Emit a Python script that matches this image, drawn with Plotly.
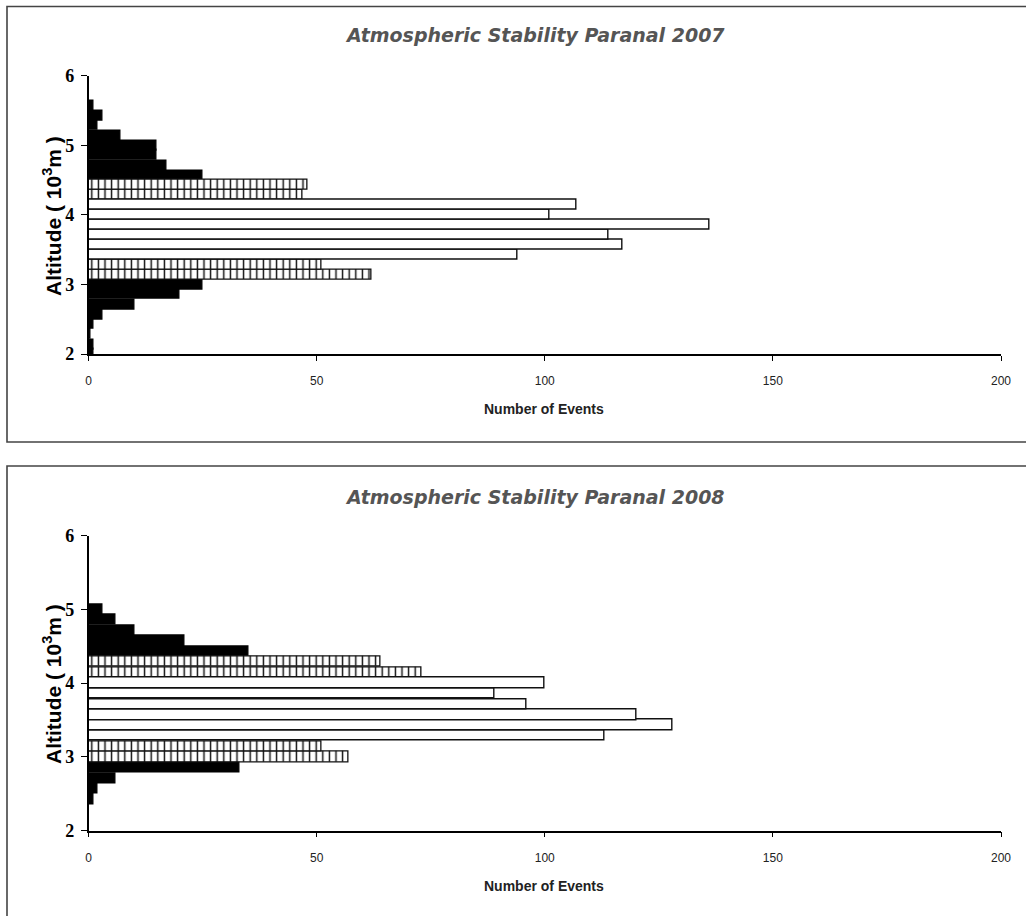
import plotly.graph_objects as go

# Altitude bins (10^3 m), bin centres
altitude = [2.00, 2.14, 2.29, 2.43, 2.57, 2.71, 2.86, 3.00, 3.14, 3.29, 3.43, 3.57, 3.71,
            3.86, 4.00, 4.14, 4.29, 4.43, 4.57, 4.71, 4.86, 5.00, 5.14, 5.29, 5.43, 5.57]
bin_width = 1 / 7

# Number of events per altitude bin
events_2007 = [1, 1, 0.5, 1, 3, 10, 20, 25, 62, 51, 94, 117, 114,
               136, 101, 107, 47, 48, 25, 17, 15, 15, 7, 2, 3, 1]
events_2008 = [0, 0, 0, 1, 2, 6, 33, 57, 51, 113, 128, 120, 96,
               89, 100, 73, 64, 35, 21, 10, 6, 3, 0, 0, 0, 0]

# Layer band of each bin
band_2007 = ["outer"] * 8 + ["edge"] * 2 + ["core"] * 6 + ["edge"] * 2 + ["outer"] * 8
band_2008 = ["outer"] * 7 + ["edge"] * 2 + ["core"] * 6 + ["edge"] * 2 + ["outer"] * 9

titles = ["Atmospheric Stability Paranal 2007", "Atmospheric Stability Paranal 2008"]
x_ticks = [0, 50, 100, 150, 200]
y_ticks = [2, 3, 4, 5, 6]

W, H = 1026, 916


def px_x(p):
    return p / W


def px_y(p):
    return 1 - p / H


band_style = {
    "outer": dict(color="black", line=dict(color="black", width=1.2)),
    "edge": dict(color="white", line=dict(color="#111", width=1.3),
                 pattern=dict(shape="|", size=6.6, solidity=0.22,
                              fgcolor="#111", bgcolor="white", fillmode="replace")),
    "core": dict(color="white", line=dict(color="#111", width=1.4)),
}

fig = go.Figure()

panels = [
    dict(counts=events_2007, bands=band_2007, xa="x", ya="y",
         ydom=(px_y(354), px_y(75.7)), frame=(6.5, 442), title_y=35,
         ytitle_y=216, xtitle_y=409),
    dict(counts=events_2008, bands=band_2008, xa="x2", ya="y2",
         ydom=(px_y(830.7), px_y(535.5)), frame=(466, 930), title_y=497,
         ytitle_y=684, xtitle_y=886),
]

for i, p in enumerate(panels):
    for band in ["outer", "edge", "core"]:
        ys = [a for a, b in zip(altitude, p["bands"]) if b == band]
        xs = [c for c, b in zip(p["counts"], p["bands"]) if b == band]
        fig.add_trace(go.Bar(
            x=xs, y=ys, orientation="h", width=bin_width,
            marker=band_style[band], xaxis=p["xa"], yaxis=p["ya"],
            showlegend=False, hoverinfo="x+y",
        ))

    suffix = "" if i == 0 else "2"
    fig.update_layout(**{
        "xaxis" + suffix: dict(
            domain=[px_x(88.5), px_x(1001)], range=[0, 200], tickvals=x_ticks,
            ticks="outside", ticklen=5, tickwidth=1, tickcolor="black",
            showline=True, linecolor="black", linewidth=1.5,
            showgrid=False, zeroline=False, anchor="y" + suffix,
            tickfont=dict(family="Liberation Sans Narrow, Liberation Sans", size=12, color="#222"),
            ticklabelstandoff=10, automargin=False,
        ),
        "yaxis" + suffix: dict(
            domain=list(p["ydom"]), range=[2, 6], tickvals=y_ticks,
            ticks="outside", ticklen=6, tickwidth=1, tickcolor="black",
            showline=True, linecolor="black", linewidth=1.5,
            showgrid=False, zeroline=False, anchor="x" + suffix,
            tickfont=dict(family="Liberation Serif", size=18, color="black", weight="bold"),
            ticklabelstandoff=3, automargin=False,
        ),
    })

    # panel frame
    fig.add_shape(type="rect", xref="paper", yref="paper",
                  x0=px_x(7), x1=px_x(1040), y0=px_y(p["frame"][1]), y1=px_y(p["frame"][0]),
                  line=dict(color="#444", width=1.6), fillcolor="rgba(0,0,0,0)", layer="below")

    fig.add_annotation(text=titles[i], xref="paper", yref="paper",
                       x=px_x(535), y=px_y(p["title_y"]), showarrow=False,
                       xanchor="center", yanchor="middle",
                       font=dict(family="DejaVu Sans", size=19, color="#555",
                                 weight="bold", style="italic"))
    fig.add_annotation(text="Altitude ( 10<sup>3</sup>m )", xref="paper", yref="paper",
                       x=px_x(52), y=px_y(p["ytitle_y"]), showarrow=False, textangle=-90,
                       xanchor="center", yanchor="middle",
                       font=dict(family="Liberation Sans", size=21, color="black", weight="bold"))
    fig.add_annotation(text="Number of Events", xref="paper", yref="paper",
                       x=px_x(544), y=px_y(p["xtitle_y"]), showarrow=False,
                       xanchor="center", yanchor="middle",
                       font=dict(family="Liberation Sans", size=14, color="#222", weight="bold"))

fig.update_layout(
    width=W, height=H, margin=dict(l=0, r=0, t=0, b=0, pad=0, autoexpand=False),
    paper_bgcolor="white", plot_bgcolor="white",
    barmode="overlay", bargap=0,
)

fig.write_html("out.html")
